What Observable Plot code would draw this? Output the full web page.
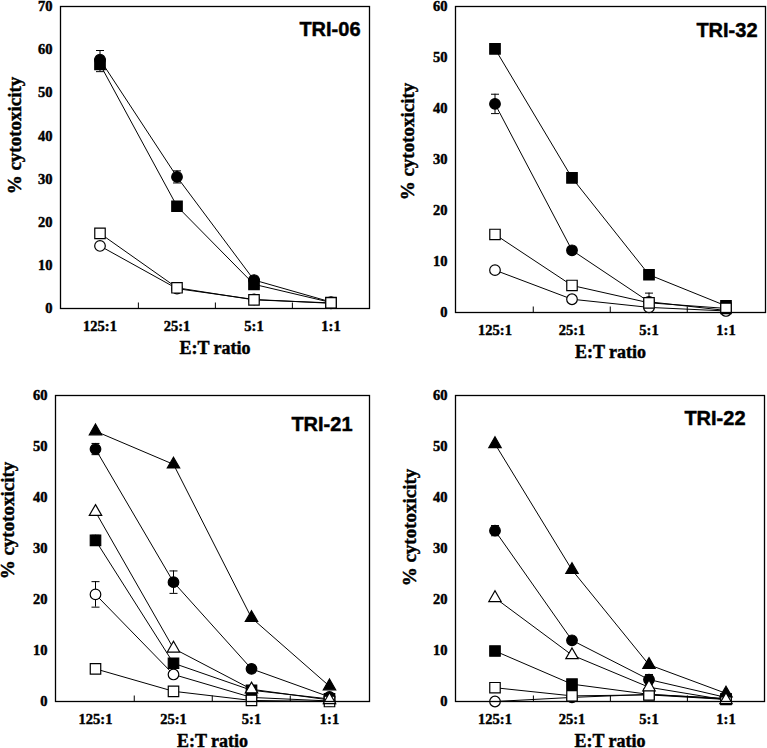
<!DOCTYPE html>
<html>
<head>
<meta charset="utf-8">
<script src="https://cdn.jsdelivr.net/npm/d3@7"></script>
<script src="https://cdn.jsdelivr.net/npm/@observablehq/plot@0.6"></script>
<style>
  html, body { margin: 0; padding: 0; background: white; }
  #root { position: relative; width: 767px; height: 748px; overflow: hidden; background: white; }
  #root > svg { position: absolute; overflow: visible; font-family: "Liberation Serif", "Times New Roman", serif !important; font-weight: bold; }
  #root > svg text { stroke: black; stroke-width: 0.45px; }
</style>
</head>
<body>
<div id="root"></div>
<script>
// ---------- data ----------
const categories = ["125:1", "25:1", "5:1", "1:1"];

// TRI-06
const tri06_filledCircle    = [57.7, 30.5, 6.6, 1.5];
const tri06_filledCircleErr = [2.1, 1.4, 0.6, 0];
const tri06_filledSquare    = [56.6, 23.7, 5.6, 1.4];
const tri06_filledSquareErr = [1.7, 0.9, 0, 0];
const tri06_openSquare      = [17.4, 4.8, 2.0, 1.3];
const tri06_openCircle      = [14.5, 4.6, 2.1, 1.2];

// TRI-32
const tri32_filledSquare    = [51.7, 26.4, 7.4, 1.3];
const tri32_filledCircle    = [40.9, 12.2, 2.1, 0.4];
const tri32_filledCircleErr = [1.9, 0.5, 1.7, 0];
const tri32_openSquare      = [15.3, 5.3, 1.9, 0.8];
const tri32_openSquareErr   = [0.9, 0, 0, 0];
const tri32_openCircle      = [8.3, 2.6, 1.0, 0.3];

// TRI-21
const tri21_filledTriangle  = [53.0, 46.5, 16.4, 3.0];
const tri21_filledCircle    = [49.5, 23.4, 6.4, 0.9];
const tri21_filledCircleErr = [1.1, 2.2, 0, 0];
const tri21_openTriangle    = [37.2, 10.4, 2.4, 0.3];
const tri21_filledSquare    = [31.6, 7.5, 2.2, 0.5];
const tri21_filledSquareErr = [1.0, 0, 0, 0];
const tri21_openCircle      = [21.0, 5.3, 0.8, 0.1];
const tri21_openCircleErr   = [2.5, 0, 0, 0];
const tri21_openSquare      = [6.4, 2.0, 0.2, 0.0];

// TRI-22
const tri22_filledTriangle  = [50.5, 25.8, 7.2, 1.6];
const tri22_filledCircle    = [33.5, 12.0, 4.3, 0.8];
const tri22_filledCircleErr = [1.0, 0.3, 1.0, 0];
const tri22_openTriangle    = [20.3, 9.1, 2.8, 0.3];
const tri22_filledSquare    = [9.9, 3.4, 1.4, 0.5];
const tri22_openSquare      = [2.7, 1.1, 1.3, 0.4];
const tri22_openCircle      = [0.0, 0.8, 1.4, 0.6];

const xLabel = "E:T ratio";
const yLabel = "% cytotoxicity";

// ---------- layout ----------
const panels = [
  { title: "TRI-06", ymax: 70, left: 0, top: 0, width: 380, height: 370,
    ml: 60, mr: 11, mt: 6, mb: 62, ylabDx: -46, ylabDy: -22, titleDx: -9, titleDy: 15,
    series: [
      { key: "fc", values: tri06_filledCircle, err: tri06_filledCircleErr, symbol: "circle", filled: true },
      { key: "fs", values: tri06_filledSquare, err: tri06_filledSquareErr, symbol: "square", filled: true },
      { key: "os", values: tri06_openSquare, symbol: "square", filled: false },
      { key: "oc", values: tri06_openCircle, symbol: "circle", filled: false }
    ] },
  { title: "TRI-32", ymax: 60, left: 385, top: 0, width: 382, height: 370,
    ml: 70, mr: 2, mt: 6, mb: 58, ylabDx: -48, ylabDy: -18, titleDx: -8, titleDy: 16,
    series: [
      { key: "fs", values: tri32_filledSquare, symbol: "square", filled: true },
      { key: "fc", values: tri32_filledCircle, err: tri32_filledCircleErr, symbol: "circle", filled: true },
      { key: "os", values: tri32_openSquare, err: tri32_openSquareErr, symbol: "square", filled: false },
      { key: "oc", values: tri32_openCircle, symbol: "circle", filled: false }
    ] },
  { title: "TRI-21", ymax: 60, left: 0, top: 370, width: 380, height: 378,
    ml: 55, mr: 11, mt: 25, mb: 47, ylabDx: -48, ylabDy: -28, titleDx: -17, titleDy: 21,
    series: [
      { key: "ft", values: tri21_filledTriangle, symbol: "triangle", filled: true },
      { key: "fc", values: tri21_filledCircle, err: tri21_filledCircleErr, symbol: "circle", filled: true },
      { key: "ot", values: tri21_openTriangle, symbol: "triangle", filled: false },
      { key: "fs", values: tri21_filledSquare, err: tri21_filledSquareErr, symbol: "square", filled: true },
      { key: "oc", values: tri21_openCircle, err: tri21_openCircleErr, symbol: "circle", filled: false },
      { key: "os", values: tri21_openSquare, symbol: "square", filled: false }
    ] },
  { title: "TRI-22", ymax: 60, left: 385, top: 370, width: 382, height: 378,
    ml: 70, mr: 3, mt: 25, mb: 47, ylabDx: -46, ylabDy: -21, titleDx: -19, titleDy: 15,
    series: [
      { key: "ft", values: tri22_filledTriangle, symbol: "triangle", filled: true },
      { key: "fc", values: tri22_filledCircle, err: tri22_filledCircleErr, symbol: "circle", filled: true },
      { key: "ot", values: tri22_openTriangle, symbol: "triangle", filled: false },
      { key: "fs", values: tri22_filledSquare, symbol: "square", filled: true },
      { key: "os", values: tri22_openSquare, symbol: "square", filled: false },
      { key: "oc", values: tri22_openCircle, symbol: "circle", filled: false }
    ] }
];

const markerR = { circle: 5.3, square: 5.9, triangle: 4.6 };

const vTick = { draw(ctx) { ctx.moveTo(0, -3); ctx.lineTo(0, 3); } };
const capSym = { draw(ctx) { ctx.moveTo(-4, 0); ctx.lineTo(4, 0); } };

function drawPanel(cfg) {
  const rows = [];
  for (const s of cfg.series) {
    s.values.forEach((v, i) => rows.push({
      series: s.key, cat: categories[i], v, e: s.err ? s.err[i] : 0,
      symbol: s.symbol, filled: s.filled
    }));
  }
  const errRows = rows.filter(d => d.e > 0);
  const bw = (cfg.width - cfg.ml - cfg.mr) / categories.length;

  const markerMarks = [];
  for (const sym of ["circle", "square", "triangle"]) {
    for (const filled of [true, false]) {
      const sub = rows.filter(d => d.symbol === sym && d.filled === filled);
      if (!sub.length) continue;
      markerMarks.push(Plot.dot(sub, {
        x: "cat", y: "v", symbol: sym, r: markerR[sym],
        fill: filled ? "black" : "white", stroke: "black", strokeWidth: 1.2
      }));
    }
  }

  const svg = Plot.plot({
    width: cfg.width, height: cfg.height,
    marginLeft: cfg.ml, marginRight: cfg.mr, marginTop: cfg.mt, marginBottom: cfg.mb,
    style: { fontSize: "14.5px", color: "black", background: "transparent", overflow: "visible" },
    x: { type: "band", domain: categories, padding: 0 },
    y: { domain: [0, cfg.ymax] },
    marks: [
      Plot.line(rows, { x: "cat", y: "v", z: "series", stroke: "black", strokeWidth: 1 }),
      Plot.ruleX(errRows, { x: "cat", y1: d => d.v - d.e, y2: d => d.v + d.e, stroke: "black", strokeWidth: 1 }),
      Plot.dot(errRows, { x: "cat", y: d => d.v + d.e, symbol: capSym, fill: "none", stroke: "black", strokeWidth: 1 }),
      Plot.dot(errRows, { x: "cat", y: d => d.v - d.e, symbol: capSym, fill: "none", stroke: "black", strokeWidth: 1 }),
      ...markerMarks,
      Plot.dot(categories.slice(1), { x: d => d, frameAnchor: "bottom", symbol: vTick, fill: "none", stroke: "black", strokeWidth: 1, dx: -bw / 2, dy: -3 }),
      Plot.frame({ stroke: "black", strokeWidth: 1.3 }),
      Plot.axisY({ ticks: d3.range(0, cfg.ymax + 1, 10), tickSize: 0, tickPadding: 8, label: null, tickFormat: d3.format("d") }),
      Plot.axisX({ tickSize: 0, tickPadding: 12, label: null }),
      Plot.text([xLabel], { text: d => d, frameAnchor: "bottom", textAnchor: "middle", lineAnchor: "top", dy: 33, fontSize: 18, fontWeight: "bold" }),
      Plot.text([yLabel], { text: d => d, frameAnchor: "left", textAnchor: "middle", lineAnchor: "middle", rotate: -90, dx: cfg.ylabDx, dy: cfg.ylabDy, fontSize: 19, fontWeight: "bold" }),
      Plot.text([cfg.title], { text: d => d, frameAnchor: "top-right", textAnchor: "end", lineAnchor: "top", dx: cfg.titleDx, dy: cfg.titleDy, fontSize: 20, fontWeight: "bold", fontFamily: "'Liberation Sans', Arial, sans-serif" })
    ]
  });
  svg.style.left = cfg.left + "px";
  svg.style.top = cfg.top + "px";
  document.getElementById("root").appendChild(svg);
}

panels.forEach(drawPanel);
</script>
</body>
</html>
